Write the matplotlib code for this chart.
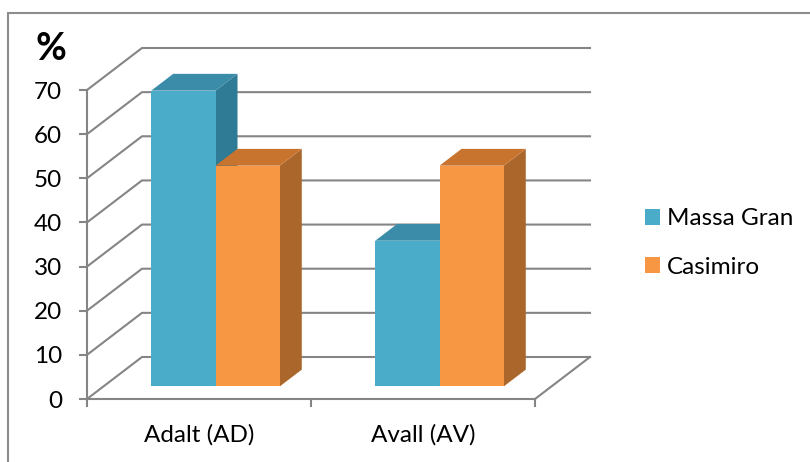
import matplotlib
matplotlib.use("Agg")
import matplotlib.pyplot as plt
from matplotlib.patches import Polygon, Rectangle, Patch

plt.rcParams['font.family'] = ['Lato', 'DejaVu Sans']

categories = ['Adalt (AD)', 'Avall (AV)']
series_names = ['Massa Gran', 'Casimiro']
massa_gran = [67, 33]
casimiro = [50, 50]
y_ticks = [0, 10, 20, 30, 40, 50, 60, 70]

front_colors = ['#4AACC8', '#F79744']
top_colors = ['#3A8CA8', '#C8742E']
side_colors = ['#2F7A94', '#AB662C']
grid_color = '#858585'
LW = 1.5

W, H = 810, 462

# depth axis: how far one full unit of depth shifts a point, in data units
DEPTH_X = 55 / 224
DEPTH_Y = 42 / (309 / 70)
BAR_W = 0.287
Z0, Z1 = 0.3, 0.7


def project(x, y, z):
    return (x + z * DEPTH_X, y + z * DEPTH_Y)


def draw_bar(ax, x0, value, i):
    x1 = x0 + BAR_W
    side = [project(x1, 0, Z0), project(x1, 0, Z1), project(x1, value, Z1), project(x1, value, Z0)]
    top = [project(x0, value, Z0), project(x1, value, Z0), project(x1, value, Z1), project(x0, value, Z1)]
    front = [project(x0, 0, Z0), project(x1, 0, Z0), project(x1, value, Z0), project(x0, value, Z0)]
    ax.add_patch(Polygon(side, fc=side_colors[i], ec='none', zorder=3, clip_on=False))
    ax.add_patch(Polygon(top, fc=top_colors[i], ec='none', zorder=3, clip_on=False))
    ax.add_patch(Polygon(front, fc=front_colors[i], ec='none', zorder=3, clip_on=False))


fig = plt.figure(figsize=(W / 100, H / 100), dpi=100)
ax = fig.add_axes([87 / W, 1 - 399 / H, 448 / W, 309 / H])
ax.set_xlim(0, 2)
ax.set_ylim(0, 70)
ax.patch.set_visible(False)

# chart frame, runs off the right and bottom of the figure
fig.add_artist(Rectangle((7.5 / W, -0.05), 1, 1 - 13 / H + 0.05,
                         transform=fig.transFigure, fc='none', ec='#8c8c8c', lw=LW))

# walls of the 3d box
for v in y_ticks:
    xa, ya = project(0, v, 0)
    xb, yb = project(0, v, 1)
    xc, yc = project(2, v, 1)
    ax.plot([xa, xb, xc], [ya, yb, yc], color=grid_color, lw=LW, clip_on=False, zorder=1)
xa, ya = project(2, 0, 0)
xb, yb = project(2, 0, 1)
ax.plot([xa, xb], [ya, yb], color=grid_color, lw=LW, clip_on=False, zorder=1)

# bars, left to right so nearer faces overlap correctly
for c in range(len(categories)):
    x0 = c + 0.5 - BAR_W
    draw_bar(ax, x0, massa_gran[c], 0)
    draw_bar(ax, x0 + BAR_W, casimiro[c], 1)

for s in ['top', 'right']:
    ax.spines[s].set_visible(False)
for s in ['left', 'bottom']:
    ax.spines[s].set_color(grid_color)
    ax.spines[s].set_linewidth(LW)

ax.set_yticks(y_ticks)
ax.set_xticks([0, 1, 2])
ax.set_xticklabels([])
ax.set_xticks([0.5, 1.5], labels=categories, minor=True)
ax.tick_params(axis='x', which='major', length=6, width=LW, color=grid_color, direction='out')
ax.tick_params(axis='x', which='minor', length=0, pad=18, labelsize=17.5)
ax.tick_params(axis='y', length=6, width=LW, color=grid_color, labelsize=17.5, pad=12)

fig.text(51 / W, 1 - 49 / H, '%', fontsize=27, fontweight='bold', ha='center', va='center')

handles = [Patch(fc=front_colors[0], ec='none'), Patch(fc=front_colors[1], ec='none')]
fig.legend(handles, series_names, loc='center left', bbox_to_anchor=(645 / W, 1 - 243 / H),
           frameon=False, fontsize=17.5, handlelength=0.62, handleheight=0.62,
           handletextpad=0.3, labelspacing=1.12, borderpad=0, borderaxespad=0)

fig.savefig('out.png', dpi=100)
